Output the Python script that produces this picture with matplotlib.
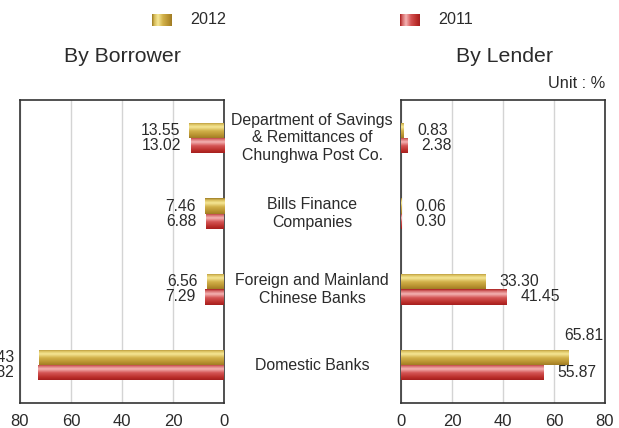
import numpy as np
import matplotlib
matplotlib.use("Agg")
import matplotlib.pyplot as plt
from matplotlib.colors import to_rgb

plt.rcParams['font.family'] = ['Liberation Sans', 'DejaVu Sans']

categories = [
    "Department of Savings\n& Remittances of\nChunghwa Post Co.",
    "Bills Finance\nCompanies",
    "Foreign and Mainland\nChinese Banks",
    "Domestic Banks",
]
years = ["2012", "2011"]
borrower_2012 = [13.55, 7.46, 6.56, 72.43]
borrower_2011 = [13.02, 6.88, 7.29, 72.82]
lender_2012 = [0.83, 0.06, 33.30, 65.81]
lender_2011 = [2.38, 0.30, 41.45, 55.87]
xticks = [0, 20, 40, 60, 80]

TEXT = "#2b2b2b"
GOLD_STOPS = [(0.0, "#9c7c24"), (0.12, "#d8bd5a"), (0.3, "#f6e796"),
              (0.55, "#d2b14a"), (0.85, "#b58f2e"), (1.0, "#a07c24")]
RED_STOPS = [(0.0, "#a81e1e"), (0.12, "#d66a6a"), (0.3, "#f4b4b4"),
             (0.55, "#d45454"), (0.85, "#b92c28"), (1.0, "#a51f1f")]


def gradient(stops, n=64):
    pos = [s[0] for s in stops]
    cols = np.array([to_rgb(s[1]) for s in stops])
    t = np.linspace(0, 1, n)
    return np.stack([np.interp(t, pos, cols[:, k]) for k in range(3)], axis=-1)


GOLD = gradient(GOLD_STOPS)
RED = gradient(RED_STOPS)

W, H = 619, 428
fig = plt.figure(figsize=(W / 100, H / 100), dpi=100)
ax_l = fig.add_axes([20 / W, 25 / H, 204 / W, 303 / H])
ax_r = fig.add_axes([401 / W, 25 / H, 204 / W, 303 / H])

y = np.arange(len(categories))
bh = 0.2


def shade_bars(ax, bars, grad):
    for p in bars.patches:
        x0, y0 = p.get_x(), p.get_y()
        w, h = p.get_width(), p.get_height()
        im = ax.imshow(grad[:, None, :], extent=(x0, x0 + w, y0 + h, y0),
                       origin="upper", aspect="auto", zorder=3,
                       interpolation="bilinear")
        im.set_clip_path(p)
        p.set_facecolor("none")


for ax, v12, v11 in ((ax_l, borrower_2012, borrower_2011),
                     (ax_r, lender_2012, lender_2011)):
    b12 = ax.barh(y - bh / 2, v12, height=bh, zorder=3, linewidth=0)
    b11 = ax.barh(y + bh / 2, v11, height=bh, zorder=3, linewidth=0)
    shade_bars(ax, b12, GOLD)
    shade_bars(ax, b11, RED)
    ax.set_ylim(3.5, -0.5)
    ax.set_yticks([])
    ax.set_xticks(xticks)
    ax.xaxis.grid(True, color="#d4d4d4", linewidth=1.0, zorder=0)
    ax.set_axisbelow(True)
    ax.tick_params(axis="x", length=0, pad=8, labelsize=12, labelcolor=TEXT)
    for s in ax.spines.values():
        s.set_color("#333333")
        s.set_linewidth(1.2)

ax_l.set_xlim(80, 0)
ax_r.set_xlim(0, 80)

lab_kw = dict(fontsize=11.3, color=TEXT, va="center", textcoords="offset points")

# Borrower values, written to the left of each bar
for i in range(len(categories)):
    for val, dy in ((borrower_2012[i], -bh / 2), (borrower_2011[i], bh / 2)):
        if val > 60:
            ax_l.annotate(f"{val:.2f}", xy=(80, y[i] + dy), xytext=(-4, 0),
                          ha="right", annotation_clip=False, **lab_kw)
        else:
            ax_l.annotate(f"{val:.2f}", xy=(val, y[i] + dy), xytext=(-7, 0),
                          ha="right", **lab_kw)

# Lender values, written to the right of each bar
for i in range(len(categories)):
    for val, dy in ((lender_2012[i], -bh / 2), (lender_2011[i], bh / 2)):
        if val > 60:
            ax_r.annotate(f"{val:.2f}", xy=(80, y[i] + dy), xytext=(-1, 16),
                          ha="right", annotation_clip=False, **lab_kw)
        else:
            ax_r.annotate(f"{val:.2f}", xy=(val, y[i] + dy), xytext=(10, 0),
                          ha="left", **lab_kw)

# Category names between the two panels
for i, name in enumerate(categories):
    ax_r.annotate(name, xy=(0, y[i]), xycoords=("axes fraction", "data"),
                  xytext=(-64, 0), textcoords="offset points",
                  ha="center", va="center", fontsize=11.4, color=TEXT,
                  linespacing=1.2, annotation_clip=False)

# Panel titles and unit
fig.text(122 / W, 1 - 57 / H, "By Borrower", ha="center", va="center",
         fontsize=15.3, color=TEXT)
fig.text(504 / W, 1 - 57 / H, "By Lender", ha="center", va="center",
         fontsize=15.3, color=TEXT)
fig.text(605 / W, 1 - 83 / H, "Unit : %", ha="right", va="center",
         fontsize=11.8, color=TEXT)

# Legend swatches
legend_items = [(years[0], 152, GOLD_STOPS), (years[1], 400, RED_STOPS)]
for label, x0, stops in legend_items:
    lax = fig.add_axes([x0 / W, 1 - 26 / H, 20 / W, 12 / H])
    lax.imshow(gradient(stops)[None, :, :], aspect="auto")
    lax.set_axis_off()
    fig.text((x0 + 38) / W, 1 - 20 / H, label, ha="left", va="center",
             fontsize=11.6, color=TEXT)

fig.savefig("out.png", dpi=100)
